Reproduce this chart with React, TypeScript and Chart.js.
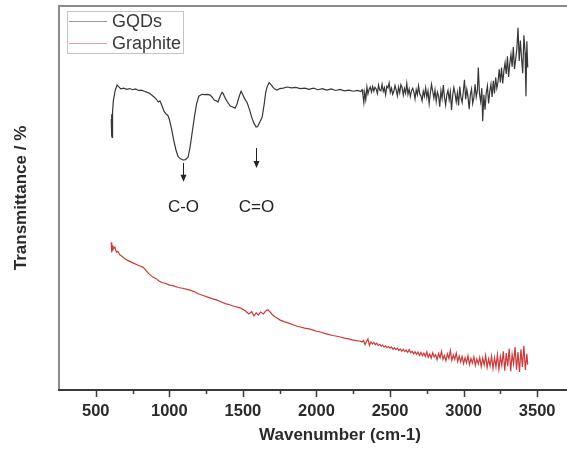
import React, { useEffect, useRef } from "react";
import { Chart, registerables } from "chart.js";

Chart.register(...registerables);

// ---- Data ----
const X_MIN = 250;
const X_MAX = 4070;
const Y_MIN = 0;
const Y_MAX = 100;
const MAJOR_TICKS = [500, 1000, 1500, 2000, 2500, 3000, 3500];
const MINOR_TICKS = [750, 1250, 1750, 2250, 2750, 3250];
const SERIES_NAMES = ["GQDs", "Graphite"];
const X_TITLE = "Wavenumber (cm-1)";
const Y_TITLE = "Transmittance / %";

// annotations (peak markers)
const ANNOTATION_LABELS = ["C-O", "C=O"];
const ANNOTATION_X = [1093, 1590];
const ARROW_TOP = [59.1, 63.0];
const ARROW_BOTTOM = [54.2, 57.8];
const LABEL_Y = [47.7, 47.7];

// GQDs spectrum [wavenumber, transmittance]
const GQDS: [number, number][] = [
  [605, 70.5], [607, 66.0], [609, 71.8], [611, 65.8], [614, 72.5], [620, 75.5], [632, 78.0],
  [645, 79.4], [655, 79.0], [670, 78.4], [690, 78.6], [710, 78.3], [730, 78.5], [750, 78.2],
  [770, 78.4], [790, 78.0], [810, 78.1], [830, 77.8], [850, 77.5], [868, 77.2], [890, 76.5],
  [910, 75.8], [925, 75.0], [936, 75.3], [950, 74.0], [965, 72.5], [980, 71.8], [990, 71.5],
  [1000, 70.5], [1015, 68.0], [1030, 65.0], [1045, 62.5], [1059, 60.8], [1075, 60.2],
  [1093, 59.9], [1110, 60.0], [1127, 60.6], [1140, 63.0], [1155, 67.0], [1170, 71.0],
  [1185, 74.5], [1200, 76.5], [1222, 77.0], [1240, 76.9], [1260, 77.0], [1277, 76.8],
  [1290, 76.3], [1305, 75.5], [1320, 75.3], [1331, 75.0], [1345, 76.5], [1358, 77.5],
  [1365, 77.3], [1380, 76.0], [1395, 75.0], [1413, 74.0], [1430, 73.7], [1447, 73.4],
  [1460, 74.5], [1475, 76.5], [1488, 77.8], [1495, 77.3], [1510, 76.0], [1529, 74.8],
  [1545, 73.0], [1560, 71.0], [1575, 69.5], [1590, 68.5], [1600, 68.6], [1615, 69.8],
  [1631, 71.1], [1645, 74.5], [1655, 77.5], [1665, 79.0], [1678, 80.0], [1690, 79.6],
  [1705, 78.8], [1720, 78.3], [1733, 78.1], [1750, 78.5], [1774, 78.6], [1800, 78.9],
  [1830, 78.7], [1860, 78.8], [1890, 78.5], [1920, 78.6], [1950, 78.3], [1980, 78.6],
  [2010, 78.2], [2040, 78.5], [2070, 78.1], [2100, 78.4], [2130, 78.0], [2160, 78.3],
  [2190, 77.9], [2220, 78.1], [2250, 77.8], [2280, 78.0], [2300, 77.7],
  [2310, 78.2], [2316, 76.8], [2322, 74.9], [2328, 77.5], [2335, 75.6], [2343, 78.9],
  [2350, 77.1], [2358, 78.3], [2366, 78.9], [2374, 77.6], [2382, 79.0], [2390, 77.8],
  [2398, 78.8], [2406, 78.4], [2414, 77.2], [2422, 79.4], [2430, 78.1], [2438, 77.9],
  [2446, 79.6], [2454, 77.8], [2462, 78.7], [2470, 76.9], [2478, 79.1], [2486, 78.7],
  [2494, 80.0], [2502, 77.5], [2510, 78.6], [2518, 77.0], [2526, 77.8], [2534, 79.3],
  [2542, 78.1], [2550, 76.6], [2558, 78.9], [2566, 77.4], [2574, 79.5], [2582, 78.8],
  [2590, 76.8], [2598, 78.5], [2606, 77.3], [2614, 79.8], [2622, 77.0], [2630, 78.4],
  [2638, 76.4], [2646, 77.9], [2654, 78.6], [2662, 77.6], [2670, 75.8], [2678, 78.2],
  [2686, 76.9], [2694, 79.2], [2702, 77.1], [2710, 76.6], [2718, 75.3], [2726, 77.8],
  [2734, 76.5], [2742, 78.7], [2750, 76.2], [2758, 77.9], [2766, 74.6], [2774, 77.3],
  [2782, 79.6], [2790, 77.8], [2798, 76.0], [2806, 78.1], [2814, 75.2], [2822, 77.6],
  [2830, 76.6], [2838, 73.8], [2846, 77.9], [2854, 75.9], [2862, 79.4], [2870, 76.3],
  [2878, 74.2], [2886, 76.8], [2894, 78.0], [2902, 75.6], [2910, 77.7], [2918, 72.9],
  [2926, 76.8], [2934, 78.8], [2942, 77.2], [2950, 75.0], [2958, 77.4], [2966, 74.1],
  [2974, 79.0], [2982, 76.2], [2990, 74.9], [2998, 77.6], [3006, 80.8], [3014, 75.7],
  [3022, 78.3], [3030, 76.4], [3038, 73.1], [3046, 76.9], [3054, 78.4], [3062, 74.6],
  [3070, 76.1], [3078, 79.6], [3086, 76.3], [3094, 78.0], [3100, 84.0], [3108, 77.2],
  [3116, 75.1], [3124, 78.6], [3130, 70.0], [3138, 76.9], [3146, 73.0], [3154, 77.4],
  [3162, 79.2], [3170, 74.6], [3178, 77.8], [3186, 79.6], [3194, 76.3], [3202, 80.5],
  [3210, 77.2], [3218, 81.4], [3226, 78.6], [3234, 80.2], [3242, 83.5], [3250, 80.1],
  [3258, 84.0], [3266, 79.8], [3274, 83.1], [3282, 85.2], [3290, 82.3], [3298, 86.9],
  [3306, 81.5], [3314, 85.0], [3322, 87.4], [3330, 84.2], [3338, 89.3], [3346, 83.6],
  [3354, 86.1], [3362, 88.8], [3370, 94.3], [3378, 85.7], [3386, 91.0], [3394, 86.4],
  [3402, 82.5], [3410, 92.4], [3418, 87.9], [3424, 76.5], [3430, 90.8], [3436, 84.0],
];

// Graphite spectrum [wavenumber, transmittance]
const GRAPHITE: [number, number][] = [
  [605, 38.5], [607, 35.8], [610, 38.2], [613, 36.4], [617, 37.6], [620, 36.8], [630, 37.2],
  [640, 35.9], [650, 36.1], [663, 35.2], [680, 34.8], [700, 34.1], [720, 33.7], [752, 33.1],
  [780, 32.6], [800, 32.3], [820, 32.0], [840, 31.2], [860, 30.3], [888, 29.4], [910, 29.0],
  [930, 28.4], [950, 28.0], [970, 27.8], [1004, 27.3], [1030, 27.1], [1060, 26.7],
  [1090, 26.5], [1120, 26.2], [1140, 26.0], [1170, 25.6], [1200, 25.0], [1230, 24.6],
  [1260, 24.2], [1290, 23.8], [1324, 23.4], [1350, 23.0], [1380, 22.5], [1410, 22.2],
  [1440, 21.8], [1481, 21.4], [1500, 21.0], [1520, 20.5], [1540, 19.8], [1560, 20.4],
  [1575, 19.3], [1590, 20.1], [1605, 19.5], [1620, 20.3], [1640, 19.8], [1655, 20.6],
  [1670, 20.9], [1686, 20.3], [1700, 19.6], [1720, 19.0], [1754, 18.2], [1780, 17.8],
  [1810, 17.4], [1840, 17.0], [1870, 16.6], [1890, 16.4], [1920, 16.1], [1950, 15.9],
  [1978, 15.6], [2000, 15.3], [2026, 15.1], [2050, 14.8], [2080, 14.5], [2110, 14.2],
  [2140, 14.0], [2162, 13.8], [2190, 13.5], [2220, 13.3], [2250, 13.0], [2280, 12.8],
  [2300, 12.7], [2310, 12.5], [2320, 12.9], [2330, 11.8], [2340, 12.6], [2350, 13.3],
  [2360, 11.6], [2370, 12.5], [2380, 12.0], [2390, 12.4], [2400, 11.8], [2410, 12.2],
  [2420, 11.6], [2430, 11.9], [2440, 11.4], [2450, 11.7], [2460, 11.2], [2470, 11.5],
  [2480, 11.0], [2490, 11.3], [2500, 10.9], [2510, 11.2], [2520, 10.6], [2530, 11.0],
  [2540, 10.5], [2550, 10.9], [2560, 10.3], [2570, 10.7], [2580, 10.1], [2590, 10.6],
  [2600, 10.0], [2610, 10.4], [2620, 9.8], [2630, 10.5], [2640, 9.7], [2650, 10.1],
  [2660, 9.4], [2670, 10.0], [2680, 9.3], [2690, 9.9], [2700, 9.0], [2710, 9.8],
  [2720, 8.9], [2730, 9.6], [2740, 8.7], [2750, 9.9], [2760, 8.5], [2770, 9.4],
  [2780, 8.3], [2790, 9.7], [2800, 8.6], [2810, 9.2], [2820, 7.9], [2830, 9.5],
  [2840, 8.4], [2850, 10.1], [2860, 8.0], [2870, 9.0], [2880, 7.6], [2890, 9.4],
  [2900, 8.2], [2910, 10.3], [2920, 7.7], [2930, 9.1], [2940, 8.0], [2950, 9.6],
  [2960, 7.4], [2970, 8.8], [2980, 7.3], [2990, 8.7], [3000, 6.9], [3010, 8.4],
  [3020, 7.1], [3030, 8.9], [3040, 6.6], [3050, 8.2], [3060, 7.0], [3070, 8.6],
  [3080, 6.4], [3090, 8.1], [3100, 6.8], [3110, 8.5], [3120, 6.1], [3130, 8.3],
  [3140, 6.5], [3150, 9.0], [3160, 5.9], [3170, 8.1], [3180, 6.3], [3190, 8.8],
  [3200, 5.6], [3210, 8.4], [3220, 6.0], [3230, 9.2], [3240, 5.4], [3250, 8.7],
  [3260, 6.4], [3270, 10.1], [3280, 5.0], [3290, 9.6], [3300, 6.2], [3310, 10.8],
  [3320, 4.9], [3330, 9.3], [3340, 6.8], [3350, 11.2], [3360, 5.3], [3370, 9.9],
  [3380, 4.7], [3390, 10.6], [3400, 6.0], [3410, 11.5], [3420, 5.2], [3430, 9.4],
  [3436, 6.6],
];

const FONT = "'Liberation Sans', Arial, sans-serif";

const framePlugin = {
  id: "frameAndExtras",
  afterDraw(chart: any) {
    const { ctx, chartArea, scales } = chart;
    const xs = scales.x;
    const ys = scales.y;
    ctx.save();
    // frame
    ctx.lineWidth = 2;
    ctx.strokeStyle = "#8a8a8a";
    ctx.beginPath();
    ctx.moveTo(chartArea.left, chartArea.bottom);
    ctx.lineTo(chartArea.left, chartArea.top);
    ctx.lineTo(chartArea.right, chartArea.top);
    ctx.lineTo(chartArea.right, chartArea.bottom);
    ctx.stroke();
    ctx.strokeStyle = "#3a3a3a";
    ctx.beginPath();
    ctx.moveTo(chartArea.left - 1, chartArea.bottom);
    ctx.lineTo(chartArea.right, chartArea.bottom);
    ctx.stroke();
    // ticks
    ctx.lineWidth = 1.5;
    MAJOR_TICKS.forEach((v) => {
      const px = Math.round(xs.getPixelForValue(v)) + 0.5;
      ctx.beginPath();
      ctx.moveTo(px, chartArea.bottom);
      ctx.lineTo(px, chartArea.bottom + 7);
      ctx.stroke();
    });
    MINOR_TICKS.forEach((v) => {
      const px = Math.round(xs.getPixelForValue(v)) + 0.5;
      ctx.beginPath();
      ctx.moveTo(px, chartArea.bottom);
      ctx.lineTo(px, chartArea.bottom + 4);
      ctx.stroke();
    });

    // annotations
    ctx.fillStyle = "#222";
    ctx.strokeStyle = "#222";
    ctx.lineWidth = 1;
    ctx.font = `17px ${FONT}`;
    ctx.textAlign = "center";
    ctx.textBaseline = "middle";
    ANNOTATION_LABELS.forEach((label, i) => {
      const px = Math.round(xs.getPixelForValue(ANNOTATION_X[i])) + 0.5;
      const y1 = ys.getPixelForValue(ARROW_TOP[i]);
      const y2 = ys.getPixelForValue(ARROW_BOTTOM[i]);
      ctx.beginPath();
      ctx.moveTo(px, y1);
      ctx.lineTo(px, y2 - 5);
      ctx.stroke();
      ctx.beginPath();
      ctx.moveTo(px - 3, y2 - 7);
      ctx.lineTo(px + 3, y2 - 7);
      ctx.lineTo(px, y2);
      ctx.closePath();
      ctx.fill();
      ctx.fillText(label, px, ys.getPixelForValue(LABEL_Y[i]));
    });

    // legend
    const bx = chartArea.left + 8;
    const by = chartArea.top + 5;
    ctx.strokeStyle = "#c4c4c4";
    ctx.lineWidth = 1;
    ctx.strokeRect(bx + 0.5, by + 0.5, 116, 42);
    const colors = ["#9a9a9a", "#e0a0a0"];
    ctx.font = `18px ${FONT}`;
    ctx.textAlign = "left";
    ctx.fillStyle = "#3a3a3a";
    SERIES_NAMES.forEach((name, i) => {
      const ly = by + 10.5 + i * 22;
      ctx.strokeStyle = colors[i];
      ctx.beginPath();
      ctx.moveTo(bx + 2, ly);
      ctx.lineTo(bx + 40, ly);
      ctx.stroke();
      ctx.fillText(name, bx + 45, ly + 1);
    });
    ctx.restore();
  },
};

export default function App() {
  const ref = useRef<HTMLCanvasElement | null>(null);
  useEffect(() => {
    if (!ref.current) return;
    const chart = new Chart(ref.current, {
      type: "line",
      data: {
        datasets: [
          {
            label: SERIES_NAMES[0],
            data: GQDS.map(([x, y]) => ({ x, y })),
            borderColor: "rgba(20,20,20,0.85)",
            borderWidth: 1.2,
            pointRadius: 0,
            tension: 0,
          },
          {
            label: SERIES_NAMES[1],
            data: GRAPHITE.map(([x, y]) => ({ x, y })),
            borderColor: "rgba(200,36,36,0.9)",
            borderWidth: 1.2,
            pointRadius: 0,
            tension: 0,
          },
        ],
      },
      options: {
        responsive: false,
        animation: false,
        layout: { padding: { top: 6, left: 0, right: 0, bottom: 0 } },
        plugins: { legend: { display: false }, tooltip: { enabled: false } },
        scales: {
          x: {
            type: "linear",
            min: X_MIN,
            max: X_MAX,
            afterBuildTicks: (scale: any) => {
              scale.ticks = MAJOR_TICKS.map((v) => ({ value: v }));
            },
            afterFit: (scale: any) => {
              scale.height = 60;
            },
            grid: { display: false, drawTicks: false },
            border: { display: false },
            ticks: {
              padding: 12,
              color: "#2a2a2a",
              font: { family: FONT, size: 16.5, weight: "bold" },
              maxRotation: 0,
              autoSkip: false,
              callback: (v: any) => String(v),
            },
            title: {
              display: true,
              text: X_TITLE,
              color: "#2a2a2a",
              font: { family: FONT, size: 17, weight: "bold" },
              padding: { top: 0, bottom: 4 },
            },
          },
          y: {
            type: "linear",
            min: Y_MIN,
            max: Y_MAX,
            afterFit: (scale: any) => {
              scale.width = 59;
            },
            grid: { display: false, drawTicks: false },
            border: { display: false },
            ticks: { display: false },
            title: {
              display: true,
              text: Y_TITLE,
              color: "#2a2a2a",
              font: { family: FONT, size: 17, weight: "bold" },
              padding: { top: 11, bottom: 0 },
            },
          },
        },
      },
      plugins: [framePlugin],
    } as any);
    return () => chart.destroy();
  }, []);
  return (
    <div
      style={{
        position: "fixed",
        left: 0,
        top: 0,
        width: 567,
        height: 450,
        overflow: "hidden",
        background: "#fff",
      }}
    >
      <canvas ref={ref} width={621} height={450} style={{ display: "block" }} />
    </div>
  );
}
